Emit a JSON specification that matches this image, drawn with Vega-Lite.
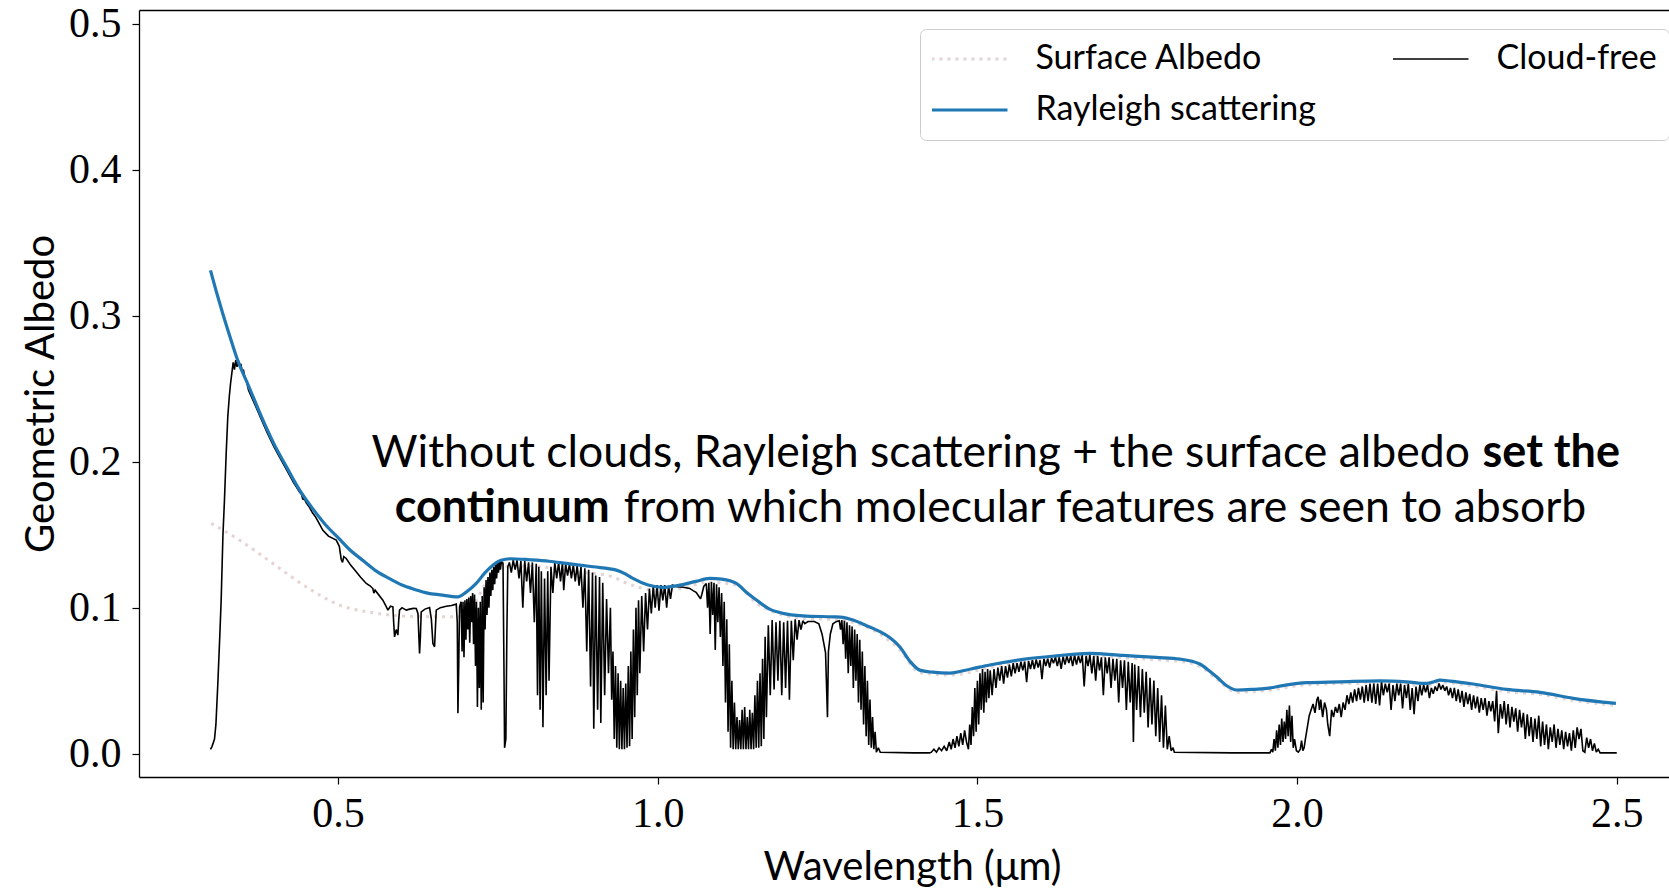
{
  "$schema": "https://vega.github.io/schema/vega-lite/v6.json",
  "width": 1530,
  "height": 767,
  "autosize": {"type": "none"},
  "padding": {"left": 139, "top": 10, "right": 0, "bottom": 113},
  "background": "white",
  "config": {
    "view": {"stroke": null},
    "font": "Lato",
    "axis": {"grid": false, "domainColor": "black", "domainWidth": 1.3, "tickColor": "black", "tickWidth": 1.2, "tickSize": 7, "labelColor": "black", "titleColor": "black", "labelFont": "Liberation Serif", "labelFontSize": 42, "titleFont": "Lato", "titleFontSize": 40, "titleFontWeight": "normal", "labelFlush": false, "labelOverlap": false}
  },
  "datasets": {
    "cloudFree": [
      {"wavelength":0.3005,"albedo":0.003},{"wavelength":0.303,"albedo":0.005},{"wavelength":0.3068,"albedo":0.010},{"wavelength":0.309,"albedo":0.020},{"wavelength":0.312,"albedo":0.048},{"wavelength":0.315,"albedo":0.080},{"wavelength":0.3172,"albedo":0.105},{"wavelength":0.320,"albedo":0.150},{"wavelength":0.3224,"albedo":0.174},{"wavelength":0.325,"albedo":0.205},{"wavelength":0.3276,"albedo":0.231},{"wavelength":0.330,"albedo":0.245},{"wavelength":0.332,"albedo":0.254},{"wavelength":0.334,"albedo":0.261},{"wavelength":0.336,"albedo":0.268},{"wavelength":0.338,"albedo":0.263},{"wavelength":0.340,"albedo":0.2695},{"wavelength":0.342,"albedo":0.265},{"wavelength":0.344,"albedo":0.2695},{"wavelength":0.346,"albedo":0.266},{"wavelength":0.348,"albedo":0.267},{"wavelength":0.350,"albedo":0.262},{"wavelength":0.352,"albedo":0.263},{"wavelength":0.354,"albedo":0.258},{"wavelength":0.3563,"albedo":0.256},
      {"wavelength":0.360,"albedo":0.249},{"wavelength":0.370,"albedo":0.239},{"wavelength":0.380,"albedo":0.229},{"wavelength":0.390,"albedo":0.219},{"wavelength":0.400,"albedo":0.210},{"wavelength":0.410,"albedo":0.202},{"wavelength":0.420,"albedo":0.194},{"wavelength":0.430,"albedo":0.186},{"wavelength":0.440,"albedo":0.179},{"wavelength":0.443,"albedo":0.1775},{"wavelength":0.445,"albedo":0.174},{"wavelength":0.447,"albedo":0.175},{"wavelength":0.450,"albedo":0.172},{"wavelength":0.455,"albedo":0.169},{"wavelength":0.460,"albedo":0.165},{"wavelength":0.465,"albedo":0.162},{"wavelength":0.470,"albedo":0.158},{"wavelength":0.4763,"albedo":0.153},{"wavelength":0.485,"albedo":0.149},{"wavelength":0.4972,"albedo":0.1463},{"wavelength":0.502,"albedo":0.142},{"wavelength":0.505,"albedo":0.133},{"wavelength":0.507,"albedo":0.131},{"wavelength":0.509,"albedo":0.135},{"wavelength":0.5128,"albedo":0.1337},{"wavelength":0.520,"albedo":0.129},{"wavelength":0.5284,"albedo":0.1246},{"wavelength":0.535,"albedo":0.121},{"wavelength":0.5441,"albedo":0.1166},{"wavelength":0.550,"albedo":0.115},{"wavelength":0.5545,"albedo":0.1131},{"wavelength":0.556,"albedo":0.110},{"wavelength":0.558,"albedo":0.112},{"wavelength":0.5701,"albedo":0.1051},{"wavelength":0.575,"albedo":0.101},{"wavelength":0.578,"albedo":0.0983},{"wavelength":0.582,"albedo":0.101},{"wavelength":0.5858,"albedo":0.1006},{"wavelength":0.587,"albedo":0.090},{"wavelength":0.5884,"albedo":0.080},{"wavelength":0.591,"albedo":0.085},{"wavelength":0.5936,"albedo":0.0812},{"wavelength":0.595,"albedo":0.092},{"wavelength":0.5962,"albedo":0.0983},{"wavelength":0.600,"albedo":0.100},{"wavelength":0.6067,"albedo":0.0983},{"wavelength":0.612,"albedo":0.099},{"wavelength":0.618,"albedo":0.0995},{"wavelength":0.6223,"albedo":0.0994},{"wavelength":0.625,"albedo":0.096},{"wavelength":0.6275,"albedo":0.0687},{"wavelength":0.6288,"albedo":0.080},{"wavelength":0.6301,"albedo":0.0971},{"wavelength":0.636,"albedo":0.099},{"wavelength":0.6432,"albedo":0.1001},{"wavelength":0.646,"albedo":0.092},{"wavelength":0.6484,"albedo":0.0755},{"wavelength":0.651,"albedo":0.0732},{"wavelength":0.6525,"albedo":0.088},{"wavelength":0.6536,"albedo":0.0983},{"wavelength":0.660,"albedo":0.100},{"wavelength":0.6693,"albedo":0.101},{"wavelength":0.6775,"albedo":0.1015},{"wavelength":0.6849,"albedo":0.1024},{"wavelength":0.6865,"albedo":0.090},{"wavelength":0.6875,"albedo":0.0276},{"wavelength":0.6888,"albedo":0.060},{"wavelength":0.6901,"albedo":0.1006},
      {"wavelength":0.6925,"albedo":0.104},{"wavelength":0.694,"albedo":0.070},{"wavelength":0.6955,"albedo":0.104},{"wavelength":0.697,"albedo":0.066},{"wavelength":0.6985,"albedo":0.105},{"wavelength":0.700,"albedo":0.078},{"wavelength":0.7015,"albedo":0.106},{"wavelength":0.703,"albedo":0.085},{"wavelength":0.7045,"albedo":0.107},{"wavelength":0.706,"albedo":0.076},{"wavelength":0.7075,"albedo":0.108},{"wavelength":0.709,"albedo":0.090},{"wavelength":0.7105,"albedo":0.110},{"wavelength":0.712,"albedo":0.075},{"wavelength":0.7135,"albedo":0.109},{"wavelength":0.715,"albedo":0.060},{"wavelength":0.7165,"albedo":0.104},{"wavelength":0.718,"albedo":0.032},{"wavelength":0.7195,"albedo":0.100},{"wavelength":0.721,"albedo":0.045},{"wavelength":0.7225,"albedo":0.104},{"wavelength":0.724,"albedo":0.030},{"wavelength":0.7255,"albedo":0.108},{"wavelength":0.727,"albedo":0.035},{"wavelength":0.7285,"albedo":0.114},{"wavelength":0.730,"albedo":0.085},{"wavelength":0.7315,"albedo":0.119},{"wavelength":0.733,"albedo":0.095},{"wavelength":0.7345,"albedo":0.121},{"wavelength":0.736,"albedo":0.100},{"wavelength":0.7375,"albedo":0.124},{"wavelength":0.739,"albedo":0.108},{"wavelength":0.7405,"albedo":0.126},{"wavelength":0.742,"albedo":0.112},{"wavelength":0.7435,"albedo":0.128},{"wavelength":0.745,"albedo":0.116},{"wavelength":0.7465,"albedo":0.130},{"wavelength":0.748,"albedo":0.120},{"wavelength":0.7495,"albedo":0.131},{"wavelength":0.751,"albedo":0.124},{"wavelength":0.7525,"albedo":0.132},{"wavelength":0.754,"albedo":0.126},{"wavelength":0.7555,"albedo":0.132},{"wavelength":0.757,"albedo":0.130},{"wavelength":0.758,"albedo":0.131},{"wavelength":0.7595,"albedo":0.060},{"wavelength":0.7605,"albedo":0.004},{"wavelength":0.7625,"albedo":0.010},{"wavelength":0.764,"albedo":0.080},{"wavelength":0.7655,"albedo":0.128},
      {"wavelength":0.768,"albedo":0.131},{"wavelength":0.771,"albedo":0.124},{"wavelength":0.774,"albedo":0.1325},{"wavelength":0.777,"albedo":0.126},{"wavelength":0.780,"albedo":0.1325},{"wavelength":0.783,"albedo":0.120},{"wavelength":0.786,"albedo":0.132},{"wavelength":0.789,"albedo":0.100},{"wavelength":0.792,"albedo":0.132},{"wavelength":0.795,"albedo":0.118},{"wavelength":0.798,"albedo":0.131},{"wavelength":0.801,"albedo":0.110},{"wavelength":0.804,"albedo":0.131},{"wavelength":0.807,"albedo":0.090},{"wavelength":0.810,"albedo":0.130},{"wavelength":0.812,"albedo":0.040},{"wavelength":0.814,"albedo":0.128},{"wavelength":0.816,"albedo":0.030},{"wavelength":0.818,"albedo":0.125},{"wavelength":0.8205,"albedo":0.018},{"wavelength":0.823,"albedo":0.120},{"wavelength":0.8255,"albedo":0.040},{"wavelength":0.828,"albedo":0.125},{"wavelength":0.830,"albedo":0.050},{"wavelength":0.833,"albedo":0.128},{"wavelength":0.836,"albedo":0.110},{"wavelength":0.839,"albedo":0.131},{"wavelength":0.842,"albedo":0.120},{"wavelength":0.845,"albedo":0.131},{"wavelength":0.848,"albedo":0.118},{"wavelength":0.851,"albedo":0.131},{"wavelength":0.853,"albedo":0.112},{"wavelength":0.856,"albedo":0.130},{"wavelength":0.859,"albedo":0.122},{"wavelength":0.862,"albedo":0.130},{"wavelength":0.865,"albedo":0.120},{"wavelength":0.868,"albedo":0.1295},{"wavelength":0.871,"albedo":0.118},{"wavelength":0.874,"albedo":0.129},{"wavelength":0.877,"albedo":0.115},{"wavelength":0.880,"albedo":0.128},{"wavelength":0.883,"albedo":0.100},{"wavelength":0.886,"albedo":0.127},{"wavelength":0.889,"albedo":0.070},{"wavelength":0.892,"albedo":0.126},{"wavelength":0.895,"albedo":0.046},{"wavelength":0.898,"albedo":0.124},{"wavelength":0.900,"albedo":0.017},{"wavelength":0.903,"albedo":0.122},{"wavelength":0.906,"albedo":0.030},{"wavelength":0.909,"albedo":0.121},{"wavelength":0.911,"albedo":0.021},{"wavelength":0.914,"albedo":0.117},{"wavelength":0.917,"albedo":0.040},{"wavelength":0.920,"albedo":0.106},{"wavelength":0.923,"albedo":0.055},{"wavelength":0.926,"albedo":0.100},{"wavelength":0.928,"albedo":0.037},
      {"wavelength":0.930,"albedo":0.070},{"wavelength":0.932,"albedo":0.010},{"wavelength":0.934,"albedo":0.060},{"wavelength":0.936,"albedo":0.004},{"wavelength":0.938,"albedo":0.055},{"wavelength":0.940,"albedo":0.003},{"wavelength":0.942,"albedo":0.050},{"wavelength":0.944,"albedo":0.003},{"wavelength":0.946,"albedo":0.045},{"wavelength":0.948,"albedo":0.003},{"wavelength":0.950,"albedo":0.048},{"wavelength":0.952,"albedo":0.004},{"wavelength":0.954,"albedo":0.060},{"wavelength":0.956,"albedo":0.005},{"wavelength":0.958,"albedo":0.070},{"wavelength":0.960,"albedo":0.010},{"wavelength":0.962,"albedo":0.085},{"wavelength":0.964,"albedo":0.025},{"wavelength":0.966,"albedo":0.100},{"wavelength":0.968,"albedo":0.040},{"wavelength":0.970,"albedo":0.105},{"wavelength":0.972,"albedo":0.055},{"wavelength":0.975,"albedo":0.108},{"wavelength":0.978,"albedo":0.070},{"wavelength":0.981,"albedo":0.110},{"wavelength":0.984,"albedo":0.085},{"wavelength":0.987,"albedo":0.113},{"wavelength":0.990,"albedo":0.096},{"wavelength":0.993,"albedo":0.115},{"wavelength":0.996,"albedo":0.100},{"wavelength":0.999,"albedo":0.1155},{"wavelength":1.002,"albedo":0.098},{"wavelength":1.005,"albedo":0.1155},{"wavelength":1.008,"albedo":0.105},{"wavelength":1.011,"albedo":0.1155},{"wavelength":1.014,"albedo":0.100},{"wavelength":1.017,"albedo":0.115},{"wavelength":1.020,"albedo":0.106},{"wavelength":1.023,"albedo":0.1155},
      {"wavelength":1.030,"albedo":0.1143},{"wavelength":1.040,"albedo":0.1140},{"wavelength":1.050,"albedo":0.1132},{"wavelength":1.056,"albedo":0.1115},{"wavelength":1.060,"albedo":0.1105},{"wavelength":1.064,"albedo":0.108},{"wavelength":1.067,"albedo":0.106},{"wavelength":1.069,"albedo":0.109},{"wavelength":1.072,"albedo":0.1145},{"wavelength":1.076,"albedo":0.1166},
      {"wavelength":1.078,"albedo":0.100},{"wavelength":1.080,"albedo":0.117},{"wavelength":1.082,"albedo":0.082},{"wavelength":1.084,"albedo":0.1175},{"wavelength":1.086,"albedo":0.095},{"wavelength":1.088,"albedo":0.117},{"wavelength":1.090,"albedo":0.071},{"wavelength":1.092,"albedo":0.116},{"wavelength":1.094,"albedo":0.090},{"wavelength":1.096,"albedo":0.114},{"wavelength":1.098,"albedo":0.080},{"wavelength":1.100,"albedo":0.110},{"wavelength":1.102,"albedo":0.060},{"wavelength":1.104,"albedo":0.104},{"wavelength":1.106,"albedo":0.035},{"wavelength":1.108,"albedo":0.092},{"wavelength":1.110,"albedo":0.015},{"wavelength":1.112,"albedo":0.075},{"wavelength":1.114,"albedo":0.004},{"wavelength":1.116,"albedo":0.050},{"wavelength":1.118,"albedo":0.003},{"wavelength":1.120,"albedo":0.035},{"wavelength":1.122,"albedo":0.003},{"wavelength":1.124,"albedo":0.025},{"wavelength":1.126,"albedo":0.003},{"wavelength":1.128,"albedo":0.023},{"wavelength":1.130,"albedo":0.003},{"wavelength":1.132,"albedo":0.030},{"wavelength":1.134,"albedo":0.003},{"wavelength":1.136,"albedo":0.032},{"wavelength":1.138,"albedo":0.003},{"wavelength":1.140,"albedo":0.025},{"wavelength":1.142,"albedo":0.003},{"wavelength":1.144,"albedo":0.030},{"wavelength":1.146,"albedo":0.003},{"wavelength":1.148,"albedo":0.028},{"wavelength":1.150,"albedo":0.003},{"wavelength":1.152,"albedo":0.040},{"wavelength":1.154,"albedo":0.004},{"wavelength":1.156,"albedo":0.050},{"wavelength":1.158,"albedo":0.004},{"wavelength":1.160,"albedo":0.055},{"wavelength":1.162,"albedo":0.005},{"wavelength":1.164,"albedo":0.065},{"wavelength":1.166,"albedo":0.010},{"wavelength":1.168,"albedo":0.080},{"wavelength":1.170,"albedo":0.025},{"wavelength":1.173,"albedo":0.088},{"wavelength":1.176,"albedo":0.040},{"wavelength":1.179,"albedo":0.0915},{"wavelength":1.182,"albedo":0.044},{"wavelength":1.185,"albedo":0.090},{"wavelength":1.188,"albedo":0.050},{"wavelength":1.191,"albedo":0.091},{"wavelength":1.194,"albedo":0.040},{"wavelength":1.197,"albedo":0.090},{"wavelength":1.200,"albedo":0.045},{"wavelength":1.203,"albedo":0.091},{"wavelength":1.206,"albedo":0.037},{"wavelength":1.209,"albedo":0.091},{"wavelength":1.212,"albedo":0.064},{"wavelength":1.215,"albedo":0.092},{"wavelength":1.218,"albedo":0.078},{"wavelength":1.221,"albedo":0.0915},{"wavelength":1.224,"albedo":0.085},{"wavelength":1.227,"albedo":0.091},{"wavelength":1.230,"albedo":0.089},{"wavelength":1.235,"albedo":0.0905},{"wavelength":1.245,"albedo":0.0905},{"wavelength":1.252,"albedo":0.089},{"wavelength":1.257,"albedo":0.082},{"wavelength":1.260,"albedo":0.075},{"wavelength":1.2625,"albedo":0.069},{"wavelength":1.2655,"albedo":0.025},{"wavelength":1.267,"albedo":0.070},{"wavelength":1.270,"albedo":0.082},{"wavelength":1.274,"albedo":0.089},{"wavelength":1.279,"albedo":0.0904},{"wavelength":1.284,"albedo":0.091},
      {"wavelength":1.286,"albedo":0.085},{"wavelength":1.288,"albedo":0.0915},{"wavelength":1.290,"albedo":0.075},{"wavelength":1.292,"albedo":0.091},{"wavelength":1.294,"albedo":0.065},{"wavelength":1.296,"albedo":0.090},{"wavelength":1.298,"albedo":0.055},{"wavelength":1.300,"albedo":0.088},{"wavelength":1.302,"albedo":0.060},{"wavelength":1.304,"albedo":0.087},{"wavelength":1.306,"albedo":0.045},{"wavelength":1.308,"albedo":0.085},{"wavelength":1.310,"albedo":0.050},{"wavelength":1.312,"albedo":0.082},{"wavelength":1.314,"albedo":0.035},{"wavelength":1.316,"albedo":0.078},{"wavelength":1.318,"albedo":0.030},{"wavelength":1.320,"albedo":0.070},{"wavelength":1.322,"albedo":0.020},{"wavelength":1.324,"albedo":0.060},{"wavelength":1.326,"albedo":0.012},{"wavelength":1.328,"albedo":0.050},{"wavelength":1.330,"albedo":0.006},{"wavelength":1.332,"albedo":0.037},{"wavelength":1.334,"albedo":0.004},{"wavelength":1.336,"albedo":0.025},{"wavelength":1.338,"albedo":0.003},{"wavelength":1.340,"albedo":0.015},{"wavelength":1.342,"albedo":0.001},{"wavelength":1.345,"albedo":0.004},{"wavelength":1.348,"albedo":0.001},{"wavelength":1.400,"albedo":0.0005},{"wavelength":1.425,"albedo":0.0005},
      {"wavelength":1.428,"albedo":0.001},{"wavelength":1.432,"albedo":0.003},{"wavelength":1.436,"albedo":0.001},{"wavelength":1.440,"albedo":0.004},{"wavelength":1.444,"albedo":0.002},{"wavelength":1.448,"albedo":0.005},{"wavelength":1.452,"albedo":0.002},{"wavelength":1.456,"albedo":0.008},{"wavelength":1.459,"albedo":0.003},{"wavelength":1.462,"albedo":0.010},{"wavelength":1.465,"albedo":0.004},{"wavelength":1.468,"albedo":0.012},{"wavelength":1.471,"albedo":0.005},{"wavelength":1.474,"albedo":0.014},{"wavelength":1.477,"albedo":0.006},{"wavelength":1.480,"albedo":0.016},{"wavelength":1.483,"albedo":0.008},{"wavelength":1.486,"albedo":0.003},{"wavelength":1.488,"albedo":0.020},{"wavelength":1.490,"albedo":0.006},{"wavelength":1.492,"albedo":0.032},{"wavelength":1.494,"albedo":0.012},{"wavelength":1.496,"albedo":0.045},{"wavelength":1.498,"albedo":0.015},{"wavelength":1.500,"albedo":0.050},{"wavelength":1.502,"albedo":0.020},{"wavelength":1.504,"albedo":0.055},{"wavelength":1.506,"albedo":0.030},{"wavelength":1.508,"albedo":0.058},{"wavelength":1.510,"albedo":0.028},{"wavelength":1.512,"albedo":0.056},{"wavelength":1.514,"albedo":0.035},{"wavelength":1.516,"albedo":0.058},{"wavelength":1.518,"albedo":0.038},{"wavelength":1.520,"albedo":0.057},{"wavelength":1.523,"albedo":0.040},{"wavelength":1.526,"albedo":0.058},{"wavelength":1.529,"albedo":0.045},{"wavelength":1.532,"albedo":0.059},{"wavelength":1.535,"albedo":0.050},{"wavelength":1.538,"albedo":0.060},{"wavelength":1.541,"albedo":0.048},{"wavelength":1.544,"albedo":0.060},{"wavelength":1.547,"albedo":0.052},{"wavelength":1.550,"albedo":0.061},{"wavelength":1.553,"albedo":0.053},{"wavelength":1.556,"albedo":0.062},{"wavelength":1.559,"albedo":0.055},{"wavelength":1.562,"albedo":0.062},{"wavelength":1.565,"albedo":0.056},{"wavelength":1.568,"albedo":0.063},{"wavelength":1.571,"albedo":0.057},{"wavelength":1.574,"albedo":0.063},{"wavelength":1.577,"albedo":0.049},{"wavelength":1.580,"albedo":0.0635},{"wavelength":1.583,"albedo":0.058},{"wavelength":1.586,"albedo":0.064},{"wavelength":1.589,"albedo":0.058},{"wavelength":1.592,"albedo":0.0645},{"wavelength":1.595,"albedo":0.059},{"wavelength":1.598,"albedo":0.064},{"wavelength":1.601,"albedo":0.051},{"wavelength":1.604,"albedo":0.065},{"wavelength":1.607,"albedo":0.060},{"wavelength":1.610,"albedo":0.065},{"wavelength":1.613,"albedo":0.059},{"wavelength":1.616,"albedo":0.0655},{"wavelength":1.619,"albedo":0.062},{"wavelength":1.622,"albedo":0.066},{"wavelength":1.625,"albedo":0.060},{"wavelength":1.628,"albedo":0.066},{"wavelength":1.631,"albedo":0.058},{"wavelength":1.634,"albedo":0.0665},{"wavelength":1.637,"albedo":0.061},{"wavelength":1.640,"albedo":0.067},{"wavelength":1.643,"albedo":0.062},{"wavelength":1.646,"albedo":0.067},{"wavelength":1.649,"albedo":0.060},{"wavelength":1.652,"albedo":0.0675},{"wavelength":1.655,"albedo":0.061},{"wavelength":1.658,"albedo":0.067},{"wavelength":1.661,"albedo":0.062},{"wavelength":1.664,"albedo":0.0675},{"wavelength":1.667,"albedo":0.046},{"wavelength":1.670,"albedo":0.067},{"wavelength":1.673,"albedo":0.060},{"wavelength":1.676,"albedo":0.0675},{"wavelength":1.679,"albedo":0.055},{"wavelength":1.682,"albedo":0.067},{"wavelength":1.685,"albedo":0.050},{"wavelength":1.688,"albedo":0.067},{"wavelength":1.691,"albedo":0.057},{"wavelength":1.694,"albedo":0.066},{"wavelength":1.697,"albedo":0.040},{"wavelength":1.700,"albedo":0.066},{"wavelength":1.703,"albedo":0.055},{"wavelength":1.706,"albedo":0.066},{"wavelength":1.709,"albedo":0.045},{"wavelength":1.712,"albedo":0.065},{"wavelength":1.715,"albedo":0.050},{"wavelength":1.718,"albedo":0.065},{"wavelength":1.721,"albedo":0.035},{"wavelength":1.724,"albedo":0.064},{"wavelength":1.727,"albedo":0.045},{"wavelength":1.730,"albedo":0.064},{"wavelength":1.733,"albedo":0.030},{"wavelength":1.736,"albedo":0.063},{"wavelength":1.739,"albedo":0.035},{"wavelength":1.742,"albedo":0.062},{"wavelength":1.744,"albedo":0.008},{"wavelength":1.746,"albedo":0.061},{"wavelength":1.749,"albedo":0.030},{"wavelength":1.752,"albedo":0.060},{"wavelength":1.755,"albedo":0.025},{"wavelength":1.758,"albedo":0.058},{"wavelength":1.761,"albedo":0.028},{"wavelength":1.764,"albedo":0.056},{"wavelength":1.767,"albedo":0.018},{"wavelength":1.770,"albedo":0.052},{"wavelength":1.773,"albedo":0.020},{"wavelength":1.776,"albedo":0.050},{"wavelength":1.779,"albedo":0.012},{"wavelength":1.782,"albedo":0.045},{"wavelength":1.785,"albedo":0.008},{"wavelength":1.788,"albedo":0.040},{"wavelength":1.791,"albedo":0.004},{"wavelength":1.794,"albedo":0.033},{"wavelength":1.797,"albedo":0.003},{"wavelength":1.800,"albedo":0.012},{"wavelength":1.803,"albedo":0.002},{"wavelength":1.806,"albedo":0.004},{"wavelength":1.808,"albedo":0.001},{"wavelength":1.900,"albedo":0.0005},{"wavelength":1.9575,"albedo":0.0005},
      {"wavelength":1.960,"albedo":0.003},{"wavelength":1.962,"albedo":0.001},{"wavelength":1.964,"albedo":0.010},{"wavelength":1.966,"albedo":0.002},{"wavelength":1.968,"albedo":0.016},{"wavelength":1.970,"albedo":0.004},{"wavelength":1.972,"albedo":0.020},{"wavelength":1.974,"albedo":0.006},{"wavelength":1.976,"albedo":0.024},{"wavelength":1.978,"albedo":0.008},{"wavelength":1.980,"albedo":0.022},{"wavelength":1.982,"albedo":0.010},{"wavelength":1.984,"albedo":0.030},{"wavelength":1.986,"albedo":0.012},{"wavelength":1.988,"albedo":0.033},{"wavelength":1.990,"albedo":0.008},{"wavelength":1.992,"albedo":0.026},{"wavelength":1.994,"albedo":0.004},{"wavelength":1.996,"albedo":0.010},{"wavelength":1.999,"albedo":0.002},{"wavelength":2.002,"albedo":0.001},{"wavelength":2.005,"albedo":0.003},{"wavelength":2.007,"albedo":0.009},{"wavelength":2.009,"albedo":0.002},{"wavelength":2.011,"albedo":0.004},{"wavelength":2.013,"albedo":0.010},{"wavelength":2.016,"albedo":0.018},{"wavelength":2.019,"albedo":0.026},{"wavelength":2.022,"albedo":0.030},{"wavelength":2.025,"albedo":0.034},{"wavelength":2.028,"albedo":0.028},{"wavelength":2.031,"albedo":0.037},{"wavelength":2.033,"albedo":0.039},{"wavelength":2.035,"albedo":0.030},{"wavelength":2.037,"albedo":0.037},{"wavelength":2.040,"albedo":0.025},{"wavelength":2.043,"albedo":0.035},{"wavelength":2.046,"albedo":0.030},{"wavelength":2.048,"albedo":0.020},{"wavelength":2.051,"albedo":0.012},{"wavelength":2.054,"albedo":0.030},{"wavelength":2.057,"albedo":0.025},{"wavelength":2.060,"albedo":0.032},{"wavelength":2.063,"albedo":0.028},{"wavelength":2.066,"albedo":0.034},{"wavelength":2.069,"albedo":0.025},{"wavelength":2.072,"albedo":0.035},{"wavelength":2.075,"albedo":0.030},{"wavelength":2.078,"albedo":0.040},{"wavelength":2.081,"albedo":0.034},{"wavelength":2.084,"albedo":0.042},{"wavelength":2.087,"albedo":0.035},{"wavelength":2.090,"albedo":0.044},{"wavelength":2.093,"albedo":0.036},{"wavelength":2.096,"albedo":0.045},{"wavelength":2.099,"albedo":0.037},{"wavelength":2.102,"albedo":0.046},{"wavelength":2.105,"albedo":0.035},{"wavelength":2.108,"albedo":0.047},{"wavelength":2.111,"albedo":0.036},{"wavelength":2.114,"albedo":0.048},{"wavelength":2.117,"albedo":0.035},{"wavelength":2.120,"albedo":0.048},{"wavelength":2.123,"albedo":0.034},{"wavelength":2.126,"albedo":0.048},{"wavelength":2.129,"albedo":0.033},{"wavelength":2.132,"albedo":0.049},{"wavelength":2.135,"albedo":0.040},{"wavelength":2.138,"albedo":0.048},{"wavelength":2.141,"albedo":0.042},{"wavelength":2.144,"albedo":0.048},{"wavelength":2.147,"albedo":0.030},{"wavelength":2.150,"albedo":0.047},{"wavelength":2.153,"albedo":0.036},{"wavelength":2.156,"albedo":0.048},{"wavelength":2.159,"albedo":0.040},{"wavelength":2.162,"albedo":0.048},{"wavelength":2.165,"albedo":0.031},{"wavelength":2.168,"albedo":0.047},{"wavelength":2.171,"albedo":0.038},{"wavelength":2.174,"albedo":0.048},{"wavelength":2.177,"albedo":0.030},{"wavelength":2.180,"albedo":0.045},{"wavelength":2.183,"albedo":0.027},{"wavelength":2.186,"albedo":0.046},{"wavelength":2.189,"albedo":0.036},{"wavelength":2.192,"albedo":0.047},{"wavelength":2.195,"albedo":0.040},{"wavelength":2.198,"albedo":0.047},{"wavelength":2.201,"albedo":0.042},{"wavelength":2.204,"albedo":0.047},{"wavelength":2.207,"albedo":0.038},{"wavelength":2.210,"albedo":0.045},{"wavelength":2.213,"albedo":0.041},{"wavelength":2.216,"albedo":0.046},{"wavelength":2.219,"albedo":0.043},{"wavelength":2.222,"albedo":0.048},{"wavelength":2.225,"albedo":0.044},{"wavelength":2.228,"albedo":0.047},{"wavelength":2.231,"albedo":0.043},{"wavelength":2.234,"albedo":0.046},{"wavelength":2.237,"albedo":0.040},{"wavelength":2.240,"albedo":0.045},{"wavelength":2.243,"albedo":0.038},{"wavelength":2.246,"albedo":0.045},{"wavelength":2.249,"albedo":0.036},{"wavelength":2.252,"albedo":0.044},{"wavelength":2.255,"albedo":0.035},{"wavelength":2.258,"albedo":0.043},{"wavelength":2.261,"albedo":0.032},{"wavelength":2.264,"albedo":0.042},{"wavelength":2.267,"albedo":0.034},{"wavelength":2.270,"albedo":0.041},{"wavelength":2.273,"albedo":0.030},{"wavelength":2.276,"albedo":0.040},{"wavelength":2.279,"albedo":0.031},{"wavelength":2.282,"albedo":0.039},{"wavelength":2.285,"albedo":0.028},{"wavelength":2.288,"albedo":0.038},{"wavelength":2.291,"albedo":0.030},{"wavelength":2.294,"albedo":0.038},{"wavelength":2.297,"albedo":0.026},{"wavelength":2.300,"albedo":0.036},{"wavelength":2.303,"albedo":0.029},{"wavelength":2.306,"albedo":0.036},{"wavelength":2.309,"albedo":0.022},{"wavelength":2.312,"albedo":0.043},{"wavelength":2.3147,"albedo":0.014},{"wavelength":2.318,"albedo":0.034},{"wavelength":2.321,"albedo":0.024},{"wavelength":2.324,"albedo":0.036},{"wavelength":2.327,"albedo":0.020},{"wavelength":2.330,"albedo":0.034},{"wavelength":2.333,"albedo":0.018},{"wavelength":2.336,"albedo":0.032},{"wavelength":2.339,"albedo":0.022},{"wavelength":2.342,"albedo":0.031},{"wavelength":2.345,"albedo":0.015},{"wavelength":2.348,"albedo":0.030},{"wavelength":2.351,"albedo":0.018},{"wavelength":2.354,"albedo":0.028},{"wavelength":2.357,"albedo":0.010},{"wavelength":2.360,"albedo":0.027},{"wavelength":2.363,"albedo":0.012},{"wavelength":2.366,"albedo":0.025},{"wavelength":2.369,"albedo":0.008},{"wavelength":2.372,"albedo":0.024},{"wavelength":2.375,"albedo":0.010},{"wavelength":2.378,"albedo":0.026},{"wavelength":2.381,"albedo":0.005},{"wavelength":2.384,"albedo":0.022},{"wavelength":2.387,"albedo":0.006},{"wavelength":2.390,"albedo":0.020},{"wavelength":2.393,"albedo":0.003},{"wavelength":2.396,"albedo":0.018},{"wavelength":2.399,"albedo":0.008},{"wavelength":2.402,"albedo":0.020},{"wavelength":2.405,"albedo":0.004},{"wavelength":2.408,"albedo":0.017},{"wavelength":2.411,"albedo":0.006},{"wavelength":2.414,"albedo":0.016},{"wavelength":2.417,"albedo":0.003},{"wavelength":2.420,"albedo":0.015},{"wavelength":2.423,"albedo":0.005},{"wavelength":2.426,"albedo":0.014},{"wavelength":2.429,"albedo":0.002},{"wavelength":2.432,"albedo":0.016},{"wavelength":2.435,"albedo":0.004},{"wavelength":2.438,"albedo":0.018},{"wavelength":2.441,"albedo":0.010},{"wavelength":2.444,"albedo":0.017},{"wavelength":2.447,"albedo":0.002},{"wavelength":2.450,"albedo":0.001},{"wavelength":2.453,"albedo":0.011},{"wavelength":2.456,"albedo":0.004},{"wavelength":2.459,"albedo":0.010},{"wavelength":2.462,"albedo":0.002},{"wavelength":2.465,"albedo":0.007},{"wavelength":2.468,"albedo":0.001},{"wavelength":2.471,"albedo":0.003},{"wavelength":2.474,"albedo":0.0005},{"wavelength":2.500,"albedo":0.0005}
    ],
    "rayleigh": [
      {"wavelength":0.3005,"albedo":0.331},{"wavelength":0.31,"albedo":0.316},{"wavelength":0.32,"albedo":0.301},{"wavelength":0.33,"albedo":0.287},{"wavelength":0.343,"albedo":0.2695},{"wavelength":0.36,"albedo":0.252},{"wavelength":0.38,"albedo":0.231},{"wavelength":0.40,"albedo":0.212},{"wavelength":0.42,"albedo":0.196},{"wavelength":0.44,"albedo":0.1805},{"wavelength":0.46,"albedo":0.168},{"wavelength":0.48,"albedo":0.157},{"wavelength":0.50,"albedo":0.148},{"wavelength":0.52,"albedo":0.139},{"wavelength":0.54,"albedo":0.132},{"wavelength":0.56,"albedo":0.125},{"wavelength":0.58,"albedo":0.120},{"wavelength":0.60,"albedo":0.1155},{"wavelength":0.62,"albedo":0.1125},{"wavelength":0.64,"albedo":0.110},{"wavelength":0.66,"albedo":0.1088},{"wavelength":0.6875,"albedo":0.1074},{"wavelength":0.70,"albedo":0.1105},{"wavelength":0.7162,"albedo":0.1166},{"wavelength":0.73,"albedo":0.124},{"wavelength":0.7422,"albedo":0.1291},{"wavelength":0.755,"albedo":0.1325},{"wavelength":0.77,"albedo":0.1335},{"wavelength":0.80,"albedo":0.1328},{"wavelength":0.83,"albedo":0.1318},{"wavelength":0.857,"albedo":0.1303},{"wavelength":0.8987,"albedo":0.128},{"wavelength":0.9353,"albedo":0.1257},{"wavelength":0.95,"albedo":0.123},{"wavelength":0.9612,"albedo":0.120},{"wavelength":0.985,"albedo":0.1155},{"wavelength":1.0082,"albedo":0.1139},{"wavelength":1.0343,"albedo":0.1154},{"wavelength":1.06,"albedo":0.118},{"wavelength":1.0812,"albedo":0.120},{"wavelength":1.10,"albedo":0.1195},{"wavelength":1.123,"albedo":0.1166},{"wavelength":1.14,"albedo":0.110},{"wavelength":1.1543,"albedo":0.1052},{"wavelength":1.175,"albedo":0.099},{"wavelength":1.196,"albedo":0.0961},{"wavelength":1.2272,"albedo":0.0944},{"wavelength":1.2742,"albedo":0.0937},{"wavelength":1.2898,"albedo":0.0934},{"wavelength":1.3055,"albedo":0.0915},{"wavelength":1.325,"albedo":0.088},{"wavelength":1.3524,"albedo":0.0824},{"wavelength":1.3628,"albedo":0.0795},{"wavelength":1.3785,"albedo":0.0732},{"wavelength":1.395,"albedo":0.063},{"wavelength":1.4098,"albedo":0.0572},{"wavelength":1.43,"albedo":0.0558},{"wavelength":1.4567,"albedo":0.0552},{"wavelength":1.49,"albedo":0.058},{"wavelength":1.5193,"albedo":0.0607},{"wavelength":1.5714,"albedo":0.0646},{"wavelength":1.6237,"albedo":0.0670},{"wavelength":1.6756,"albedo":0.0687},{"wavelength":1.7279,"albedo":0.0673},{"wavelength":1.7801,"albedo":0.0659},{"wavelength":1.8166,"albedo":0.0648},{"wavelength":1.8479,"albedo":0.0614},{"wavelength":1.862,"albedo":0.057},{"wavelength":1.874,"albedo":0.0527},{"wavelength":1.89,"albedo":0.0465},{"wavelength":1.9053,"albedo":0.0436},{"wavelength":1.93,"albedo":0.0440},{"wavelength":1.9522,"albedo":0.0447},{"wavelength":1.98,"albedo":0.0468},{"wavelength":2.0148,"albedo":0.0486},{"wavelength":2.0669,"albedo":0.0492},{"wavelength":2.1295,"albedo":0.0499},{"wavelength":2.1712,"albedo":0.0492},{"wavelength":2.2026,"albedo":0.0481},{"wavelength":2.214,"albedo":0.0492},{"wavelength":2.2233,"albedo":0.0504},{"wavelength":2.24,"albedo":0.0497},{"wavelength":2.2755,"albedo":0.0477},{"wavelength":2.3277,"albedo":0.0440},{"wavelength":2.38,"albedo":0.0420},{"wavelength":2.4319,"albedo":0.0379},{"wavelength":2.4987,"albedo":0.0344}
    ],
    "surface": [
      {"wavelength":0.3016,"albedo":0.1577},{"wavelength":0.3459,"albedo":0.1463},{"wavelength":0.398,"albedo":0.1303},{"wavelength":0.45,"albedo":0.1143},{"wavelength":0.5023,"albedo":0.1018},{"wavelength":0.5545,"albedo":0.0965},{"wavelength":0.6067,"albedo":0.0942},{"wavelength":0.65,"albedo":0.0938},{"wavelength":0.685,"albedo":0.0937},{"wavelength":0.70,"albedo":0.096},{"wavelength":0.715,"albedo":0.104},{"wavelength":0.73,"albedo":0.116},{"wavelength":0.745,"albedo":0.125},{"wavelength":0.76,"albedo":0.128},{"wavelength":0.80,"albedo":0.1285},{"wavelength":0.8675,"albedo":0.1246},{"wavelength":0.92,"albedo":0.1223},{"wavelength":0.96,"albedo":0.1154},{"wavelength":0.99,"albedo":0.112},{"wavelength":1.0082,"albedo":0.1115},{"wavelength":1.0343,"albedo":0.113},{"wavelength":1.0812,"albedo":0.1175},{"wavelength":1.10,"albedo":0.117},{"wavelength":1.13,"albedo":0.1140},{"wavelength":1.1543,"albedo":0.103},{"wavelength":1.1807,"albedo":0.0971},{"wavelength":1.2325,"albedo":0.0925},{"wavelength":1.2845,"albedo":0.0918},{"wavelength":1.3055,"albedo":0.0898},{"wavelength":1.3524,"albedo":0.0805},{"wavelength":1.3785,"albedo":0.0712},{"wavelength":1.4098,"albedo":0.0555},{"wavelength":1.4567,"albedo":0.0538},{"wavelength":1.5193,"albedo":0.059},{"wavelength":1.5714,"albedo":0.063},{"wavelength":1.6237,"albedo":0.0653},{"wavelength":1.6756,"albedo":0.067},{"wavelength":1.7279,"albedo":0.0657},{"wavelength":1.7801,"albedo":0.0643},{"wavelength":1.8166,"albedo":0.0632},{"wavelength":1.8479,"albedo":0.0598},{"wavelength":1.874,"albedo":0.0512},{"wavelength":1.9053,"albedo":0.0421},{"wavelength":1.9522,"albedo":0.0432},{"wavelength":2.0148,"albedo":0.0471},{"wavelength":2.1295,"albedo":0.0484},{"wavelength":2.2026,"albedo":0.0466},{"wavelength":2.2233,"albedo":0.0488},{"wavelength":2.2755,"albedo":0.0462},{"wavelength":2.3277,"albedo":0.0425},{"wavelength":2.38,"albedo":0.0405},{"wavelength":2.4319,"albedo":0.0364},{"wavelength":2.4987,"albedo":0.033}
    ]
  },
  "encoding": {
    "y": {"field": "albedo", "type": "quantitative", "scale": {"domain": [-0.016, 0.5094], "nice": false, "zero": false},
      "axis": {"values": [0, 0.1, 0.2, 0.3, 0.4, 0.5], "format": ".1f", "title": "Geometric Albedo", "labelPadding": 11, "titleX": -86, "titleY": 383.5, "titleAngle": -90, "titleBaseline": "alphabetic", "titleAlign": "center"}}
  },
  "resolve": {"axis": {"x": "independent"}},
  "layer": [
    {
      "data": {"name": "surface"},
      "mark": {"type": "line", "strokeCap": "butt", "interpolate": "monotone", "strokeDash": [3, 5], "strokeWidth": 3},
      "encoding": {
        "x": {"field": "wavelength", "type": "quantitative", "scale": {"domain": [0.1887, 2.5817], "nice": false, "zero": false}, "axis": null},
        "color": {"datum": "Surface Albedo", "scale": {"domain": ["Surface Albedo", "Rayleigh scattering", "Cloud-free"], "range": ["#e6d3d3", "#1f77b4", "#000000"]},
          "legend": {"title": null, "orient": "none", "legendX": 781, "legendY": 19, "columns": 2, "columnPadding": 77, "rowPadding": 15, "padding": 12, "clipHeight": 36, "labelFont": "Lato", "labelFontSize": 34, "labelLimit": 500, "labelColor": "black", "labelOffset": 61, "symbolOffset": 8.5, "symbolType": "M-1.37,0H1.37", "symbolSize": 5329, "strokeColor": "#cccccc", "fillColor": "rgba(255,255,255,0.8)", "cornerRadius": 6,
            "encode": {"symbols": {"update": {"strokeDash": {"signal": "datum.value === 'Surface Albedo' ? [3, 5] : [1, 0]"}, "strokeWidth": {"signal": "datum.value === 'Cloud-free' ? 1.6 : 3"}, "strokeCap": {"value": "butt"}}}}}}
      }
    },
    {
      "data": {"name": "cloudFree"},
      "mark": {"type": "line", "strokeWidth": 1.6, "strokeJoin": "miter", "strokeMiterLimit": 2},
      "encoding": {
        "x": {"field": "wavelength", "type": "quantitative", "scale": {"domain": [0.1887, 2.5817], "nice": false, "zero": false},
          "axis": {"orient": "bottom", "values": [0.5, 1.0, 1.5, 2.0, 2.5], "format": ".1f", "title": "Wavelength (μm)", "labelPadding": 9, "titleX": 773, "titleY": 102, "titleBaseline": "alphabetic", "titleAlign": "center"}},
        "color": {"datum": "Cloud-free"}
      }
    },
    {
      "data": {"name": "rayleigh"},
      "mark": {"type": "line", "interpolate": "monotone", "strokeWidth": 3.2},
      "encoding": {
        "x": {"field": "wavelength", "type": "quantitative", "scale": {"domain": [0.1887, 2.5817], "nice": false, "zero": false},
          "axis": {"orient": "top", "labels": false, "ticks": false, "title": null, "domain": true}},
        "color": {"datum": "Rayleigh scattering"}
      }
    },
    {
      "data": {"values": [{"wavelength": 2.2703, "albedo": 0.1963, "note": "Without clouds, Rayleigh scattering + the surface albedo"}]},
      "mark": {"type": "text", "align": "right", "baseline": "alphabetic", "font": "Lato", "fontSize": 44.5, "fontWeight": "normal", "color": "black"},
      "encoding": {"x": {"field": "wavelength", "type": "quantitative", "axis": null}, "text": {"field": "note"}}
    },
    {
      "data": {"values": [{"wavelength": 2.2901, "albedo": 0.1963, "note": "set the"}]},
      "mark": {"type": "text", "align": "left", "baseline": "alphabetic", "font": "Lato", "fontSize": 45, "fontWeight": "bold", "color": "black"},
      "encoding": {"x": {"field": "wavelength", "type": "quantitative", "axis": null}, "text": {"field": "note"}}
    },
    {
      "data": {"values": [{"wavelength": 0.9248, "albedo": 0.1589, "note": "continuum"}]},
      "mark": {"type": "text", "align": "right", "baseline": "alphabetic", "font": "Lato", "fontSize": 45, "fontWeight": "bold", "color": "black"},
      "encoding": {"x": {"field": "wavelength", "type": "quantitative", "axis": null}, "text": {"field": "note"}}
    },
    {
      "data": {"values": [{"wavelength": 0.9468, "albedo": 0.1589, "note": "from which molecular features are seen to absorb"}]},
      "mark": {"type": "text", "align": "left", "baseline": "alphabetic", "font": "Lato", "fontSize": 44.5, "fontWeight": "normal", "color": "black"},
      "encoding": {"x": {"field": "wavelength", "type": "quantitative", "axis": null}, "text": {"field": "note"}}
    }
  ]
}
